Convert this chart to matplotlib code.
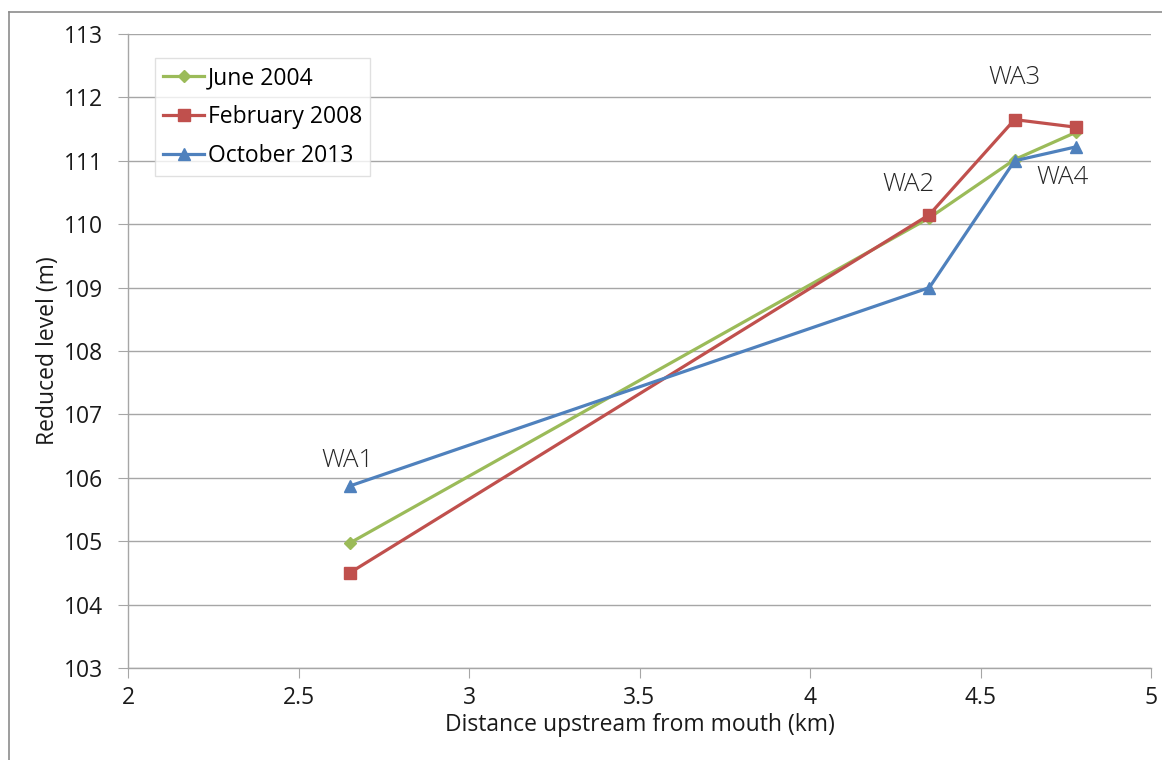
import matplotlib
matplotlib.use("Agg")
import matplotlib.pyplot as plt
from matplotlib.lines import Line2D

plt.rcParams['font.family'] = ['Open Sans', 'DejaVu Sans']

distance = [2.65, 4.35, 4.60, 4.78]
june_2004 = [104.97, 110.10, 111.02, 111.45]
feb_2008 = [104.50, 110.15, 111.65, 111.53]
oct_2013 = [105.87, 109.00, 111.00, 111.22]

site_labels = ["WA1", "WA2", "WA3", "WA4"]
site_label_x = [2.645, 4.29, 4.60, 4.74]
site_label_y = [106.28, 110.62, 112.31, 110.73]

x_ticks = [2, 2.5, 3, 3.5, 4, 4.5, 5]
x_tick_labels = ["2", "2.5", "3", "3.5", "4", "4.5", "5"]
y_ticks = list(range(103, 114))

fig = plt.figure(figsize=(11.62, 7.6), dpi=100)
ax = fig.add_axes([128/1162, 1-668/760, (1151-128)/1162, (668-34)/760])

ax.plot(distance, june_2004, color='#9BBB59', lw=2.3, marker='D', ms=6.5, label='June 2004')
ax.plot(distance, feb_2008, color='#C0504D', lw=2.3, marker='s', ms=8, label='February 2008')
ax.plot(distance, oct_2013, color='#4F81BD', lw=2.3, marker='^', ms=8.5, label='October 2013')

for t, x, y in zip(site_labels, site_label_x, site_label_y):
    ax.text(x, y, t, ha='center', va='center', fontsize=18.5, color='#262626', fontweight='light')

fs = 16.5
ax.set_xlim(2, 5)
ax.set_ylim(103, 113)
ax.set_xticks(x_ticks)
ax.set_xticklabels(x_tick_labels)
ax.set_yticks(y_ticks)
ax.yaxis.grid(True, color='#A6A6A6', lw=1)
ax.set_axisbelow(True)
for s in ['top', 'right']:
    ax.spines[s].set_visible(False)
for s in ['left', 'bottom']:
    ax.spines[s].set_color('#A6A6A6')
    ax.spines[s].set_linewidth(1)
ax.tick_params(axis='both', direction='out', length=7, color='#A6A6A6', labelsize=fs, labelcolor='#1a1a1a')
ax.tick_params(axis='x', pad=6)
ax.tick_params(axis='y', pad=11)

ax.set_xlabel('Distance upstream from mouth (km)', fontsize=fs, color='#1a1a1a', labelpad=2)
ax.set_ylabel('Reduced level (m)', fontsize=fs, color='#1a1a1a', labelpad=3)

leg = ax.legend(loc='upper left', bbox_to_anchor=((155-128)/1023, 1-(58-34)/634), fontsize=fs,
                frameon=True, fancybox=False, edgecolor='#D9D9D9', borderpad=0.35,
                handlelength=1.8, handletextpad=0.15, labelspacing=0.65, borderaxespad=0)
leg.get_frame().set_linewidth(1)

# outer chart border (partially visible: top and left)
fig.add_artist(Line2D([9/1162, 9/1162], [0, 1-12/760], transform=fig.transFigure, color='#8C8C8C', lw=1.2))
fig.add_artist(Line2D([9/1162, 1], [1-12/760, 1-12/760], transform=fig.transFigure, color='#8C8C8C', lw=1.2))

fig.savefig('out.png', dpi=100)
